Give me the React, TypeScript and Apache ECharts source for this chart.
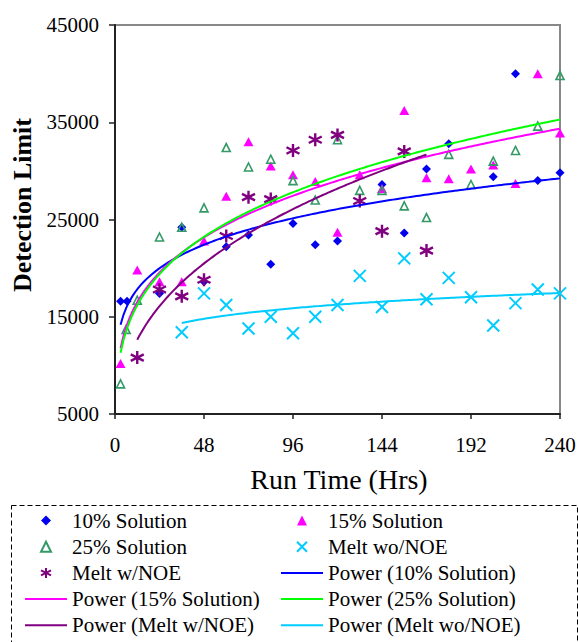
import React, { useEffect, useRef } from "react";
import * as echarts from "echarts";

// ---- data (hours, detection limit) ----
const hrs10 = [3, 6.5, 24, 36, 48, 60, 72, 84, 96, 108, 120, 144, 156, 168, 180, 204, 216, 228, 240];
const det10 = [16600, 16600, 17400, 24200, 18600, 22200, 23400, 20400, 24600, 22400, 22800, 28600, 23600, 30200, 32800, 29400, 40000, 29000, 29800];

const hrs15 = [3, 12, 24, 36, 48, 60, 72, 84, 96, 108, 120, 132, 144, 156, 168, 180, 192, 204, 216, 228, 240];
const det15 = [10200, 19800, 18600, 18600, 22800, 27400, 33000, 30500, 29600, 28900, 23700, 29600, 28200, 36200, 29300, 29200, 30200, 30600, 28700, 40000, 33900];

const hrs25 = [3, 6, 12, 24, 36, 48, 60, 72, 84, 96, 108, 120, 132, 144, 156, 168, 180, 192, 204, 216, 228, 240];
const det25 = [8100, 13700, 16700, 23200, 24200, 26200, 32400, 30400, 31200, 29000, 27000, 33200, 28000, 28000, 26400, 25200, 31700, 28600, 31000, 32100, 34600, 39800];

const hrsWo = [36, 48, 60, 72, 84, 96, 108, 120, 132, 144, 156, 168, 180, 192, 204, 216, 228, 240];
const detWo = [13400, 17400, 16200, 13800, 15000, 13300, 15000, 16200, 19200, 16000, 21000, 16800, 19000, 17000, 14100, 16400, 17800, 17400];

const hrsW = [12, 24, 36, 48, 60, 72, 84, 96, 108, 120, 132, 144, 156, 168];
const detW = [10800, 17800, 17100, 18800, 23300, 27300, 27100, 32100, 33200, 33700, 26900, 23800, 32000, 21800];

const yTicks = [5000, 15000, 25000, 35000, 45000];

const FONT = "Liberation Serif";

// Excel-style power trendline: least squares of ln(y) on ln(x)
function powerFit(xs: number[], ys: number[]) {
  const n = xs.length;
  const lx = xs.map(Math.log);
  const ly = ys.map(Math.log);
  const mx = lx.reduce((a, b) => a + b, 0) / n;
  const my = ly.reduce((a, b) => a + b, 0) / n;
  let sxy = 0, sxx = 0;
  for (let i = 0; i < n; i++) {
    sxy += (lx[i] - mx) * (ly[i] - my);
    sxx += (lx[i] - mx) * (lx[i] - mx);
  }
  const b = sxy / sxx;
  const a = Math.exp(my - b * mx);
  return { a, b };
}

function trend(xs: number[], ys: number[]) {
  const { a, b } = powerFit(xs, ys);
  const x0 = Math.min(...xs);
  const x1 = Math.max(...xs);
  const steps = 150;
  const pts: number[][] = [];
  for (let i = 0; i <= steps; i++) {
    const x = x0 + ((x1 - x0) * i) / steps;
    pts.push([x, a * Math.pow(x, b)]);
  }
  return pts;
}

const zip = (xs: number[], ys: number[]) => xs.map((x, i) => [x, ys[i]]);

const X_PATH = "path://M0,0L12,12M12,0L0,12";
const STAR_PATH = "path://M6,0L6,12M0,3L12,9M0,9L12,3";
const DIAMOND_PATH = "path://M5,0L10,5L5,10L0,5Z";
const TRI_PATH = "path://M5,0L10,10L0,10Z";
const LINE_ICON = "path://M0,0L42,0L42,2L0,2Z";

export default function App() {
  const ref = useRef<HTMLDivElement>(null);

  useEffect(() => {
    if (!ref.current) return;
    const chart = echarts.init(ref.current, undefined, { renderer: "svg" });

    const legendCommon = {
      orient: "vertical" as const,
      itemWidth: 42,
      itemHeight: 10,
      itemGap: 5.2,
      padding: 0,
      height: 140,
      selectedMode: false,
      textStyle: { fontFamily: FONT, fontSize: 21, color: "#000" },
    };

    const lineSeries = (name: string, color: string, xs: number[], ys: number[]) => ({
      name,
      type: "line",
      data: trend(xs, ys),
      symbol: "none",
      showSymbol: false,
      lineStyle: { color, width: 2 },
      itemStyle: { color },
      z: 3,
      silent: true,
    });

    chart.setOption({
      animation: false,
      backgroundColor: "#fff",
      textStyle: { fontFamily: FONT, color: "#000" },
      grid: {
        left: 115,
        top: 25,
        width: 445,
        height: 389,
        show: true,
        borderColor: "#888",
        borderWidth: 2,
        backgroundColor: "transparent",
      },
      xAxis: {
        type: "value",
        min: 0,
        max: 240,
        interval: 48,
        axisLine: { show: true, lineStyle: { color: "#222", width: 2 } },
        axisTick: { show: true, length: 5, lineStyle: { color: "#222", width: 1.5 } },
        axisLabel: { fontFamily: FONT, fontSize: 21, color: "#000", margin: 20 },
        splitLine: { show: false },
      },
      yAxis: {
        type: "value",
        min: 5000,
        max: 45000,
        axisLine: { show: true, lineStyle: { color: "#222", width: 2 } },
        axisTick: { show: true, length: 6, customValues: yTicks, lineStyle: { color: "#222", width: 1.5 } },
        axisLabel: {
          fontFamily: FONT,
          fontSize: 21,
          color: "#000",
          margin: 16,
          customValues: yTicks,
          formatter: (v: number) => String(v),
        },
        splitLine: { show: false },
      },
      legend: [
        {
          ...legendCommon,
          left: 25,
          top: 510,
          data: [
            { name: "10% Solution", icon: DIAMOND_PATH },
            { name: "25% Solution", icon: TRI_PATH },
            { name: "Melt w/NOE", icon: STAR_PATH },
            { name: "Power (15% Solution)", icon: LINE_ICON },
            { name: "Power (Melt w/NOE)", icon: LINE_ICON },
          ],
        },
        {
          ...legendCommon,
          left: 281,
          top: 510,
          data: [
            { name: "15% Solution", icon: TRI_PATH },
            { name: "Melt wo/NOE", icon: X_PATH },
            { name: "Power (10% Solution)", icon: LINE_ICON },
            { name: "Power (25% Solution)", icon: LINE_ICON },
            { name: "Power (Melt wo/NOE)", icon: LINE_ICON },
          ],
        },
      ],
      graphic: [
        {
          type: "text",
          x: 22,
          y: 205,
          rotation: Math.PI / 2,
          style: {
            text: "Detection Limit",
            fontFamily: FONT,
            fontSize: 26,
            fontWeight: "bold",
            fill: "#000",
            align: "center",
            verticalAlign: "middle",
          },
        },
        {
          type: "text",
          x: 339,
          y: 479,
          style: {
            text: "Run Time (Hrs)",
            fontFamily: FONT,
            fontSize: 28,
            fill: "#000",
            align: "center",
            verticalAlign: "middle",
          },
        },
        {
          type: "rect",
          shape: { x: 11.5, y: 505.5, width: 566, height: 200 },
          style: { fill: "none", stroke: "#000", lineWidth: 1, lineDash: [5, 3] },
          silent: true,
        },
      ],
      series: [
        {
          name: "10% Solution",
          type: "scatter",
          data: zip(hrs10, det10),
          symbol: "diamond",
          symbolSize: 9,
          itemStyle: { color: "#0000EE", opacity: 1 },
        },
        {
          name: "15% Solution",
          type: "scatter",
          data: zip(hrs15, det15),
          symbol: "triangle",
          symbolSize: [10, 9],
          itemStyle: { color: "#FF00FF", opacity: 1 },
        },
        {
          name: "25% Solution",
          type: "scatter",
          data: zip(hrs25, det25),
          symbol: "triangle",
          symbolSize: 8,
          itemStyle: { color: "transparent", borderColor: "#339966", borderWidth: 1.6, opacity: 1 },
        },
        {
          name: "Melt wo/NOE",
          type: "scatter",
          data: zip(hrsWo, detWo),
          symbol: X_PATH,
          symbolSize: 12,
          itemStyle: { color: "#00CCFF", borderColor: "#00CCFF", borderWidth: 2, opacity: 1 },
        },
        {
          name: "Melt w/NOE",
          type: "scatter",
          data: zip(hrsW, detW),
          symbol: STAR_PATH,
          symbolSize: 13,
          itemStyle: { color: "#800080", borderColor: "#800080", borderWidth: 2.4, opacity: 1 },
        },
        lineSeries("Power (10% Solution)", "#0000FF", hrs10, det10),
        lineSeries("Power (15% Solution)", "#FF00FF", hrs15, det15),
        lineSeries("Power (25% Solution)", "#00FF00", hrs25, det25),
        lineSeries("Power (Melt w/NOE)", "#800080", hrsW, detW),
        lineSeries("Power (Melt wo/NOE)", "#00CCFF", hrsWo, detWo),
      ],
    });

    return () => chart.dispose();
  }, []);

  return (
    <div
      ref={ref}
      style={{ position: "absolute", left: 0, top: 0, width: 579, height: 642 }}
    />
  );
}
